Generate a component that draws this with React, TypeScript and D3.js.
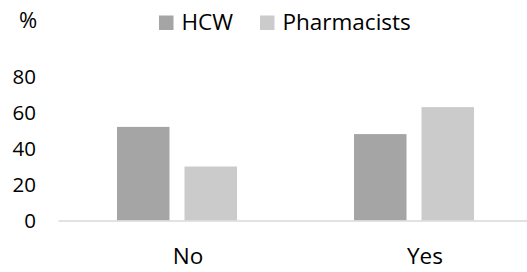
import React from "react";
import * as d3 from "d3";

const categories = ["No", "Yes"];
const seriesNames = ["HCW", "Pharmacists"];
const hcw = [52, 48];
const pharmacists = [30, 63];
const yTicks = [0, 20, 40, 60, 80];
const colors = ["#a5a5a5", "#cbcbcb"];

const W = 527;
const H = 272;
const FONT = "'Open Sans', sans-serif";

export default function App() {
  const x = d3.scaleBand<string>().domain(categories).range([58.5, 532.5]);
  const y = d3.scaleLinear().domain([0, 80]).range([220.5, 76.5]);
  const barW = 52.5;
  const gap = 15;
  const values = [hcw, pharmacists];

  return (
    <svg width={W} height={H} style={{ position: "absolute", left: 0, top: 0 }}>
      <rect width={W} height={H} fill="#fff" />
      {yTicks.map((t) => (
        <text key={t} x={36} y={y(t)} dy="0.36em" textAnchor="end" fontFamily={FONT} fontSize={20.5} fill="#000">
          {t}
        </text>
      ))}
      {categories.map((c, ci) => {
        const cx = (x(c) as number) + x.bandwidth() / 2;
        const groupW = barW * 2 + gap;
        return (
          <g key={c}>
            {values.map((vals, si) => {
              const bx = cx - groupW / 2 + si * (barW + gap);
              return (
                <rect key={si} x={bx} y={y(vals[ci])} width={barW} height={y(0) - y(vals[ci])} fill={colors[si]} />
              );
            })}
            <text x={cx + 11} y={263.5} textAnchor="middle" fontFamily={FONT} fontSize={22.5} fill="#000">
              {c}
            </text>
          </g>
        );
      })}
      <line x1={58.5} x2={W} y1={y(0) + 0.5} y2={y(0) + 0.5} stroke="#d9d9d9" strokeWidth={1.5} />
      <text x={19} y={28} fontFamily={FONT} fontSize={22} fill="#000">%</text>
      {seriesNames.map((s, i) => {
        const lx = [159, 260][i];
        return (
          <g key={s}>
            <rect x={lx} y={15.5} width={14.5} height={14.5} fill={colors[i]} />
            <text x={lx + 22.5} y={30} fontFamily={FONT} fontSize={22.5} fill="#000">{s}</text>
          </g>
        );
      })}
    </svg>
  );
}
